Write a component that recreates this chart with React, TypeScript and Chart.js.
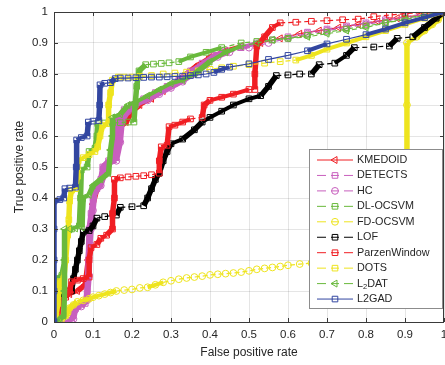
import React, { useEffect, useRef } from "react";
import { Chart, registerables } from "chart.js";

Chart.register(...registerables);

// ---------- data (FPR, TPR) ----------
const TICKS = [0, 0.1, 0.2, 0.3, 0.4, 0.5, 0.6, 0.7, 0.8, 0.9, 1];
const TICK_LABELS = ["0", "0.1", "0.2", "0.3", "0.4", "0.5", "0.6", "0.7", "0.8", "0.9", "1"];

const KMEDOID: number[][] = [
  [0, 0], [0.005, 0.03], [0.01, 0.07], [0.02, 0.08], [0.04, 0.09], [0.06, 0.1], [0.08, 0.12], [0.088, 0.2],
  [0.092, 0.3], [0.1, 0.38], [0.11, 0.43], [0.125, 0.47], [0.135, 0.51], [0.15, 0.53], [0.163, 0.6], [0.168, 0.63],
  [0.185, 0.645], [0.2, 0.68], [0.22, 0.7], [0.25, 0.72], [0.28, 0.745], [0.31, 0.77], [0.34, 0.8], [0.37, 0.83],
  [0.4, 0.855], [0.44, 0.875], [0.48, 0.89], [0.53, 0.9], [0.58, 0.915], [0.63, 0.93], [0.68, 0.94], [0.73, 0.95],
  [0.78, 0.96], [0.83, 0.97], [0.88, 0.98], [0.94, 0.99], [1, 1],
];
const DETECTS: number[][] = [
  [0, 0], [0.02, 0], [0.045, 0.005], [0.05, 0.03], [0.06, 0.05], [0.08, 0.06], [0.085, 0.1], [0.088, 0.2],
  [0.09, 0.3], [0.095, 0.35], [0.1, 0.4], [0.11, 0.43], [0.12, 0.46], [0.125, 0.5], [0.14, 0.52], [0.155, 0.53],
  [0.16, 0.6], [0.165, 0.66], [0.18, 0.685], [0.2, 0.7], [0.23, 0.72], [0.26, 0.74], [0.29, 0.76], [0.32, 0.78],
  [0.35, 0.81], [0.38, 0.835], [0.41, 0.86], [0.44, 0.875], [0.48, 0.885], [0.52, 0.9], [0.56, 0.91], [0.6, 0.92],
  [0.65, 0.935], [0.7, 0.945], [0.75, 0.955], [0.8, 0.965], [0.85, 0.975], [0.9, 0.985], [0.95, 0.993], [1, 1],
];
const HC: number[][] = [
  [0, 0], [0.03, 0], [0.05, 0.01], [0.055, 0.04], [0.07, 0.05], [0.085, 0.07], [0.09, 0.15], [0.092, 0.25],
  [0.095, 0.3], [0.1, 0.36], [0.105, 0.42], [0.12, 0.44], [0.13, 0.48], [0.14, 0.51], [0.16, 0.52], [0.17, 0.58],
  [0.175, 0.65], [0.19, 0.68], [0.21, 0.7], [0.24, 0.715], [0.27, 0.735], [0.3, 0.755], [0.33, 0.775], [0.36, 0.8],
  [0.39, 0.83], [0.42, 0.855], [0.45, 0.87], [0.5, 0.885], [0.55, 0.9], [0.6, 0.915], [0.65, 0.93], [0.7, 0.94],
  [0.75, 0.95], [0.8, 0.96], [0.85, 0.97], [0.9, 0.98], [0.95, 0.99], [1, 1],
];
const DL_OCSVM: number[][] = [
  [0, 0], [0.005, 0.07], [0.01, 0.14], [0.02, 0.15], [0.028, 0.2], [0.03, 0.28], [0.045, 0.3], [0.065, 0.31],
  [0.068, 0.4], [0.07, 0.49], [0.085, 0.5], [0.09, 0.55], [0.105, 0.56], [0.11, 0.6], [0.112, 0.64], [0.13, 0.642],
  [0.15, 0.642], [0.17, 0.643], [0.19, 0.645], [0.205, 0.645], [0.208, 0.7], [0.212, 0.76], [0.218, 0.81],
  [0.235, 0.83], [0.255, 0.832], [0.275, 0.834], [0.295, 0.836], [0.32, 0.84], [0.35, 0.855], [0.39, 0.87],
  [0.43, 0.885], [0.48, 0.9], [0.52, 0.905], [0.56, 0.91], [0.6, 0.915], [0.65, 0.925], [0.7, 0.935], [0.75, 0.945],
  [0.8, 0.955], [0.85, 0.965], [0.9, 0.98], [0.95, 0.99], [1, 1],
];
const FD_OCSVM: number[][] = [
  [0, 0], [0.01, 0.005], [0.02, 0.01], [0.03, 0.02], [0.035, 0.03], [0.04, 0.045], [0.05, 0.055], [0.06, 0.065],
  [0.075, 0.07], [0.09, 0.075], [0.1, 0.08], [0.115, 0.085], [0.13, 0.09], [0.145, 0.095], [0.16, 0.1],
  [0.18, 0.103], [0.2, 0.105], [0.22, 0.11], [0.24, 0.112], [0.26, 0.12], [0.28, 0.128], [0.3, 0.133],
  [0.32, 0.138], [0.34, 0.142], [0.36, 0.145], [0.38, 0.148], [0.4, 0.152], [0.42, 0.154], [0.44, 0.156],
  [0.46, 0.158], [0.48, 0.161], [0.5, 0.165], [0.52, 0.17], [0.54, 0.173], [0.56, 0.176], [0.58, 0.179],
  [0.6, 0.183], [0.63, 0.187], [0.66, 0.19], [0.7, 0.195], [0.75, 0.2], [0.8, 0.205], [0.85, 0.21], [0.9, 0.215],
  [0.905, 0.3], [0.905, 0.5], [0.905, 0.7], [0.905, 0.9], [0.93, 0.92], [0.95, 0.94], [0.97, 0.96],
  [0.985, 0.975], [1, 1],
];
const LOF: number[][] = [
  [0, 0], [0.005, 0.02], [0.01, 0.05], [0.015, 0.09], [0.03, 0.1], [0.045, 0.1], [0.05, 0.14], [0.055, 0.17],
  [0.06, 0.2], [0.065, 0.23], [0.07, 0.26], [0.075, 0.29], [0.09, 0.295], [0.1, 0.31], [0.11, 0.335],
  [0.13, 0.34], [0.16, 0.345], [0.17, 0.37], [0.2, 0.372], [0.23, 0.375], [0.24, 0.4], [0.25, 0.43],
  [0.26, 0.46], [0.27, 0.48], [0.28, 0.52], [0.29, 0.55], [0.3, 0.575], [0.33, 0.59], [0.36, 0.62],
  [0.38, 0.645], [0.4, 0.66], [0.43, 0.68], [0.46, 0.7], [0.5, 0.72], [0.53, 0.73], [0.55, 0.76], [0.57, 0.795],
  [0.6, 0.797], [0.63, 0.8], [0.66, 0.8], [0.68, 0.83], [0.72, 0.835], [0.75, 0.86], [0.77, 0.885],
  [0.82, 0.887], [0.86, 0.89], [0.88, 0.915], [0.92, 0.92], [0.95, 0.95], [0.98, 0.98], [1, 1],
];
const PARZEN: number[][] = [
  [0, 0], [0.01, 0.03], [0.015, 0.07], [0.03, 0.08], [0.04, 0.1], [0.045, 0.13], [0.06, 0.135], [0.075, 0.14],
  [0.09, 0.145], [0.09, 0.2], [0.095, 0.24], [0.11, 0.25], [0.12, 0.27], [0.135, 0.28], [0.15, 0.3], [0.15, 0.35],
  [0.155, 0.4], [0.155, 0.46], [0.17, 0.465], [0.19, 0.468], [0.21, 0.47], [0.23, 0.472], [0.25, 0.475],
  [0.27, 0.48], [0.27, 0.52], [0.275, 0.565], [0.29, 0.57], [0.295, 0.63], [0.31, 0.635], [0.33, 0.645],
  [0.35, 0.655], [0.38, 0.66], [0.385, 0.7], [0.4, 0.715], [0.43, 0.725], [0.46, 0.735], [0.5, 0.75],
  [0.515, 0.75], [0.515, 0.8], [0.52, 0.89], [0.54, 0.92], [0.56, 0.95], [0.58, 0.965], [0.62, 0.967],
  [0.66, 0.97], [0.7, 0.972], [0.74, 0.975], [0.78, 0.977], [0.82, 0.985], [0.86, 0.99], [0.9, 0.995],
  [0.95, 0.998], [1, 1],
];
const DOTS: number[][] = [
  [0, 0], [0.005, 0.02], [0.01, 0.06], [0.012, 0.1], [0.015, 0.13], [0.025, 0.14], [0.03, 0.2], [0.035, 0.28],
  [0.038, 0.33], [0.04, 0.39], [0.045, 0.425], [0.055, 0.43], [0.06, 0.47], [0.062, 0.52], [0.075, 0.53],
  [0.09, 0.54], [0.105, 0.55], [0.112, 0.565], [0.118, 0.6], [0.125, 0.635], [0.14, 0.64], [0.14, 0.7],
  [0.145, 0.74], [0.15, 0.78], [0.165, 0.79], [0.18, 0.79], [0.2, 0.79], [0.22, 0.792], [0.25, 0.795],
  [0.28, 0.8], [0.31, 0.803], [0.34, 0.806], [0.37, 0.81], [0.4, 0.815], [0.43, 0.82], [0.46, 0.825],
  [0.5, 0.83], [0.54, 0.835], [0.58, 0.84], [0.62, 0.845], [0.66, 0.86], [0.7, 0.88], [0.75, 0.9], [0.8, 0.92],
  [0.85, 0.94], [0.9, 0.96], [0.95, 0.98], [1, 1],
];
const L2DAT: number[][] = [
  [0, 0], [0.015, 0.01], [0.025, 0.02], [0.027, 0.1], [0.027, 0.2], [0.027, 0.3], [0.04, 0.3], [0.055, 0.302],
  [0.072, 0.305], [0.073, 0.35], [0.075, 0.4], [0.09, 0.41], [0.1, 0.44], [0.12, 0.46], [0.14, 0.48],
  [0.145, 0.555], [0.15, 0.6], [0.15, 0.66], [0.17, 0.67], [0.19, 0.7], [0.21, 0.71], [0.24, 0.73], [0.27, 0.75],
  [0.3, 0.77], [0.33, 0.78], [0.36, 0.8], [0.4, 0.84], [0.44, 0.87], [0.48, 0.89], [0.52, 0.9], [0.56, 0.91],
  [0.6, 0.915], [0.65, 0.92], [0.7, 0.93], [0.75, 0.94], [0.8, 0.95], [0.85, 0.965], [0.9, 0.975],
  [0.95, 0.99], [1, 1],
];
const L2GAD: number[][] = [
  [0, 0], [0, 0.1], [0, 0.2], [0, 0.3], [0, 0.39], [0.015, 0.395], [0.025, 0.4], [0.028, 0.43], [0.04, 0.432],
  [0.055, 0.435], [0.057, 0.5], [0.058, 0.587], [0.07, 0.595], [0.085, 0.6], [0.088, 0.645], [0.1, 0.648],
  [0.115, 0.65], [0.117, 0.7], [0.118, 0.765], [0.13, 0.77], [0.145, 0.772], [0.157, 0.785], [0.17, 0.787],
  [0.19, 0.787], [0.21, 0.788], [0.23, 0.789], [0.25, 0.79], [0.27, 0.79], [0.29, 0.791], [0.31, 0.792],
  [0.33, 0.793], [0.35, 0.795], [0.37, 0.797], [0.39, 0.8], [0.41, 0.805], [0.43, 0.815], [0.45, 0.822],
  [0.5, 0.833], [0.55, 0.847], [0.6, 0.86], [0.65, 0.875], [0.7, 0.897], [0.75, 0.912], [0.8, 0.927],
  [0.85, 0.945], [0.9, 0.965], [0.95, 0.982], [1, 1],
];

const RED = "rgb(240,30,35)";
const MAGENTA = "rgb(200,95,190)";
const GREEN = "rgb(105,185,60)";
const YELLOW = "rgb(238,228,30)";
const BLACK = "rgb(0,0,0)";
const BLUE = "rgb(50,70,160)";

type Marker = "rect" | "circle" | "tri";
interface Series {
  label: string;
  data: number[][];
  color: string;
  marker: Marker;
  dashed: boolean;
}

const SERIES: Series[] = [
  { label: "KMEDOID", data: KMEDOID, color: RED, marker: "tri", dashed: false },
  { label: "DETECTS", data: DETECTS, color: MAGENTA, marker: "rect", dashed: true },
  { label: "HC", data: HC, color: MAGENTA, marker: "circle", dashed: true },
  { label: "DL-OCSVM", data: DL_OCSVM, color: GREEN, marker: "rect", dashed: true },
  { label: "FD-OCSVM", data: FD_OCSVM, color: YELLOW, marker: "circle", dashed: true },
  { label: "LOF", data: LOF, color: BLACK, marker: "rect", dashed: true },
  { label: "ParzenWindow", data: PARZEN, color: RED, marker: "rect", dashed: true },
  { label: "DOTS", data: DOTS, color: YELLOW, marker: "rect", dashed: true },
  { label: "L2DAT", data: L2DAT, color: GREEN, marker: "tri", dashed: true },
  { label: "L2GAD", data: L2GAD, color: BLUE, marker: "rect", dashed: false },
];

const TEXT = "#262626";
const FONT = "'Liberation Sans', Arial, sans-serif";

function drawMarker(ctx: CanvasRenderingContext2D, m: Marker, x: number, y: number) {
  ctx.beginPath();
  if (m === "rect") {
    ctx.rect(x - 2.8, y - 2.8, 5.6, 5.6);
  } else if (m === "circle") {
    ctx.arc(x, y, 3.4, 0, Math.PI * 2);
  } else {
    const r = 4;
    ctx.moveTo(x - r, y);
    ctx.lineTo(x + r / 2, y - r * 0.866);
    ctx.lineTo(x + r / 2, y + r * 0.866);
    ctx.closePath();
  }
  ctx.stroke();
}

const framePlugin = {
  id: "matlabFrame",
  afterDraw(chart: any) {
    const { ctx, chartArea: a, scales } = chart;
    const xs = scales.x;
    const ys = scales.y;
    ctx.save();
    ctx.strokeStyle = "#3a3a3a";
    ctx.lineWidth = 1;
    ctx.beginPath();
    ctx.rect(Math.round(a.left) + 0.5, Math.round(a.top) + 0.5, Math.round(a.right - a.left) - 1, Math.round(a.bottom - a.top));
    ctx.stroke();
    ctx.beginPath();
    const tl = 4;
    TICKS.forEach((v) => {
      const px = Math.round(xs.getPixelForValue(v)) + 0.5;
      ctx.moveTo(px, a.bottom);
      ctx.lineTo(px, a.bottom - tl);
      ctx.moveTo(px, a.top);
      ctx.lineTo(px, a.top + tl);
      const py = Math.round(ys.getPixelForValue(v)) + 0.5;
      ctx.moveTo(a.left, py);
      ctx.lineTo(a.left + tl, py);
      ctx.moveTo(a.right, py);
      ctx.lineTo(a.right - tl, py);
    });
    ctx.stroke();

    // legend
    const L = 309.5, T = 149.5, W = 133, H = 159;
    ctx.fillStyle = "#ffffff";
    ctx.fillRect(L, T, W, H);
    ctx.strokeStyle = "#8c8c8c";
    ctx.strokeRect(L, T, W, H);
    SERIES.forEach((s, i) => {
      const y = 160 + i * 15.45;
      const x0 = 317, x1 = 353, xm = 335;
      ctx.strokeStyle = s.color;
      ctx.lineWidth = 1;
      ctx.beginPath();
      if (s.dashed) {
        ctx.moveTo(x0, y); ctx.lineTo(x0 + 9, y);
        ctx.moveTo(xm - 4, y); ctx.lineTo(xm + 4, y);
        ctx.moveTo(x1 - 9, y); ctx.lineTo(x1, y);
      } else {
        ctx.moveTo(x0, y); ctx.lineTo(x1, y);
      }
      ctx.stroke();
      drawMarker(ctx, s.marker, xm, y);
      ctx.fillStyle = TEXT;
      ctx.textBaseline = "middle";
      ctx.textAlign = "left";
      ctx.font = `10.8px ${FONT}`;
      if (s.label === "L2DAT") {
        ctx.fillText("L", 357, y);
        const wL = ctx.measureText("L").width;
        ctx.font = `7.5px ${FONT}`;
        ctx.fillText("2", 357 + wL, y + 3.5);
        const w2 = ctx.measureText("2").width;
        ctx.font = `10.8px ${FONT}`;
        ctx.fillText("DAT", 357 + wL + w2, y);
      } else {
        ctx.fillText(s.label, 357, y);
      }
    });
    ctx.restore();
  },
};

function slope(c: any): number {
  const dx = Math.abs(c.p1.x - c.p0.x);
  const dy = Math.abs(c.p1.y - c.p0.y);
  if (dy < 1) return 0;
  return dy / Math.max(dx, 0.001);
}
function segWidth(c: any): number {
  const s = slope(c);
  if (s > 0.7) return 5.5;
  if (s > 0.25) return 4;
  return 1.2;
}

const labelFor = (v: number) => {
  const i = TICKS.findIndex((t) => Math.abs(t - v) < 1e-6);
  return i >= 0 ? TICK_LABELS[i] : "";
};

export default function App() {
  const ref = useRef<HTMLCanvasElement | null>(null);
  useEffect(() => {
    document.body.style.margin = "0";
    if (!ref.current) return;
    Chart.defaults.font.family = FONT;
    const chart = new Chart(ref.current, {
      type: "line",
      data: {
        datasets: SERIES.map((s, i) => ({
          label: s.label,
          data: s.data.map(([x, y]) => ({ x, y })),
          order: SERIES.length - 1 - i,
          borderColor: s.color,
          backgroundColor: "rgba(0,0,0,0)",
          borderWidth: 1.2,
          borderDash: s.dashed ? [5, 3] : [],
          pointStyle: s.marker === "tri" ? "triangle" : s.marker === "rect" ? "rect" : "circle",
          pointRotation: s.marker === "tri" ? -90 : 0,
          pointRadius: s.marker === "rect" ? 4 : s.marker === "circle" ? 3.4 : 4,
          pointBorderWidth: 1,
          pointBorderColor: s.color,
          pointBackgroundColor: "rgba(0,0,0,0)",
          fill: false,
          tension: 0,
          segment: {
            borderWidth: (c: any) => segWidth(c),
            borderDash: (c: any) => (s.dashed && segWidth(c) < 2 ? [5, 3] : []),
          },
        })),
      },
      options: {
        animation: false,
        responsive: false,
        layout: { padding: { top: 12, right: 1, left: 0, bottom: 0 }, autoPadding: false },
        plugins: { legend: { display: false }, tooltip: { enabled: false } },
        scales: {
          x: {
            type: "linear",
            min: 0,
            max: 1,
            afterBuildTicks: (s: any) => { s.ticks = TICKS.map((v) => ({ value: v })); },
            afterFit: (s: any) => { s.height = 43; s.paddingRight = 0; s.paddingLeft = 0; },
            grid: { color: "rgba(0,0,0,0.1)", drawTicks: false },
            border: { display: false },
            ticks: { callback: (v: any) => labelFor(Number(v)), padding: 6, color: TEXT, font: { size: 11.5 }, maxRotation: 0, autoSkip: false },
            title: { display: true, text: "False positive rate", color: TEXT, font: { size: 12 }, padding: { top: 4, bottom: 5 } },
          },
          y: {
            type: "linear",
            min: 0,
            max: 1,
            afterBuildTicks: (s: any) => { s.ticks = TICKS.map((v) => ({ value: v })); },
            afterFit: (s: any) => { s.width = 54; s.paddingTop = 0; s.paddingBottom = 0; },
            grid: { color: "rgba(0,0,0,0.1)", drawTicks: false },
            border: { display: false },
            ticks: { callback: (v: any) => labelFor(Number(v)), padding: 6, color: TEXT, font: { size: 11.5 }, autoSkip: false },
            title: { display: true, text: "True positive rate", color: TEXT, font: { size: 12 }, padding: { top: 12, bottom: 0 } },
          },
        },
      },
      plugins: [framePlugin],
    });
    return () => chart.destroy();
  }, []);
  return (
    <div style={{ position: "absolute", left: 0, top: 0, width: 445, height: 365, background: "#fff" }}>
      <canvas ref={ref} width={445} height={365} style={{ display: "block" }} />
    </div>
  );
}
